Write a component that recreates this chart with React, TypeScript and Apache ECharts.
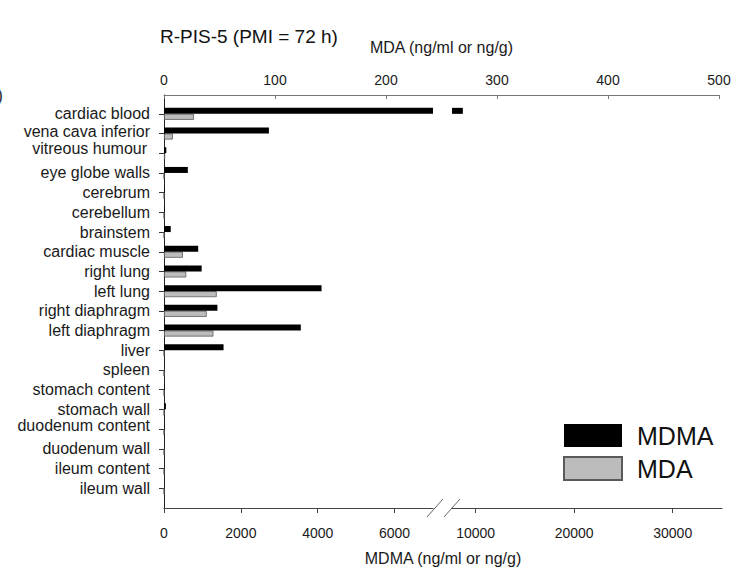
import React, { useEffect, useRef } from 'react';
import * as echarts from 'echarts';

const categories = [
  'cardiac blood', 'vena cava inferior', 'vitreous humour', 'eye globe walls', 'cerebrum',
  'cerebellum', 'brainstem', 'cardiac muscle', 'right lung', 'left lung', 'right diaphragm',
  'left diaphragm', 'liver', 'spleen', 'stomach content', 'stomach wall', 'duodenum content',
  'duodenum wall', 'ileum content', 'ileum wall',
];
// MDMA (ng/ml or ng/g), bottom broken axis
const mdmaValues = [8700, 2730, 60, 620, 15, 15, 175, 890, 980, 4100, 1390, 3560, 1550, 5, 10, 50, 10, 0, 0, 0];
// MDA (ng/ml or ng/g), top axis
const mdaValues = [27, 8, 1, 0, 0, 0, 0, 17, 20, 47.5, 38.5, 44.5, 0, 0, 0, 0, 0, 0, 0, 0];

const mdaRange = [0, 500];
const mdaInterval = 100;
const mdmaLowRange = [0, 7000];
const mdmaLowTicks = [0, 2000, 4000, 6000];
const mdmaHighRange = [7600, 35000];
const mdmaHighTicks = [10000, 20000, 30000];

const FONT = '"Liberation Sans", Arial, Helvetica, sans-serif';
const labelShift: Record<string, string> = {
  'vena cava inferior': 'u2',
  'vitreous humour': 'u5',
  'duodenum content': 'u4',
};

export default function App() {
  const ref = useRef<HTMLDivElement>(null);
  useEffect(() => {
    if (!ref.current) return;
    const chart = echarts.init(ref.current, undefined, { renderer: 'svg' });
    const labelBase = { fontSize: 16, color: '#1a1a1a', fontFamily: FONT };
    const grids = [
      { left: 164, right: 25, top: 104, bottom: 76 },
      { left: 164, width: 269, top: 104, bottom: 76 },
      { left: 452, width: 270, top: 104, bottom: 76 },
      { left: 164, width: 558, top: 95, bottom: 66 },
    ];
    const hiddenCat = (gi: number) => ({
      gridIndex: gi, type: 'category', inverse: true, data: categories, show: false,
    });
    const bottomAxis = (gi: number, range: number[], ticks: number[]) => ({
      gridIndex: gi, type: 'value', position: 'bottom', offset: 10,
      min: range[0], max: range[1],
      axisLine: { show: true, lineStyle: { color: '#444', width: 1 } },
      axisTick: { show: true, length: 5, customValues: ticks, lineStyle: { color: '#444' } },
      axisLabel: {
        customValues: ticks, formatter: (v: number) => String(v), margin: 18,
        fontSize: 14, color: '#1a1a1a', fontFamily: FONT,
      },
      splitLine: { show: false },
    });
    chart.setOption({
      animation: false,
      backgroundColor: '#ffffff',
      textStyle: { fontFamily: FONT },
      title: {
        text: 'R-PIS-5 (PMI = 72 h)', left: 155, top: 22,
        textStyle: { fontSize: 19, fontWeight: 'normal', color: '#111', fontFamily: FONT },
      },
      legend: {
        data: ['MDMA', 'MDA'], orient: 'vertical', left: 558, top: 418,
        itemWidth: 58, itemHeight: 23, itemGap: 8, icon: 'rect',
        textStyle: { fontSize: 25, color: '#111', fontFamily: FONT, padding: [0, 0, 0, 10] },
      },
      grid: grids,
      xAxis: [
        {
          gridIndex: 0, type: 'value', position: 'top', offset: 9,
          min: mdaRange[0], max: mdaRange[1], interval: mdaInterval,
          name: 'MDA (ng/ml or ng/g)', nameLocation: 'middle', nameGap: 40,
          nameTextStyle: { fontSize: 16, color: '#1a1a1a', fontFamily: FONT },
          axisLine: { show: true, lineStyle: { color: '#777', width: 1 } },
          axisTick: { show: true, inside: true, length: 4, lineStyle: { color: '#777' } },
          axisLabel: { fontSize: 14, color: '#1a1a1a', margin: 8, fontFamily: FONT },
          splitLine: { show: false },
        },
        bottomAxis(1, mdmaLowRange, mdmaLowTicks),
        bottomAxis(2, mdmaHighRange, mdmaHighTicks),
        {
          gridIndex: 3, type: 'value', position: 'bottom', min: 0, max: 1,
          name: 'MDMA (ng/ml or ng/g)', nameLocation: 'middle', nameGap: 42,
          nameTextStyle: { fontSize: 16, color: '#1a1a1a', fontFamily: FONT },
          axisLine: { show: false }, axisTick: { show: false }, axisLabel: { show: false },
          splitLine: { show: false },
        },
      ],
      yAxis: [
        {
          gridIndex: 0, type: 'category', inverse: true, data: categories,
          axisLine: { show: false },
          axisTick: { show: true, alignWithLabel: true, length: 5, lineStyle: { color: '#333' } },
          axisLabel: {
            interval: 0, margin: 14, ...labelBase,
            formatter: (v: string) => (labelShift[v] ? `{${labelShift[v]}|${v}}` : v),
            rich: {
              u2: { ...labelBase, padding: [0, 0, 4, 0] },
              u5: { ...labelBase, padding: [0, 3, 10, 0] },
              u4: { ...labelBase, padding: [0, 0, 8, 0] },
            },
          },
          splitLine: { show: false },
        },
        hiddenCat(1),
        hiddenCat(2),
        {
          gridIndex: 3, type: 'value', min: 0, max: 1,
          axisLine: { show: true, lineStyle: { color: '#222', width: 1 } },
          axisTick: { show: false }, axisLabel: { show: false }, splitLine: { show: false },
        },
      ],
      series: [
        { type: 'bar', name: 'pad0', xAxisIndex: 0, yAxisIndex: 0, data: [], barWidth: 6, barGap: '0%' },
        {
          type: 'bar', name: 'MDA', xAxisIndex: 0, yAxisIndex: 0, data: mdaValues,
          barWidth: 6, barGap: '0%',
          itemStyle: { color: '#bcbcbc', borderColor: '#5a5a5a', borderWidth: 0.8 },
        },
        {
          type: 'bar', name: 'MDMA', xAxisIndex: 1, yAxisIndex: 1, data: mdmaValues,
          barWidth: 6, barGap: '0%', clip: true, itemStyle: { color: '#000' },
        },
        { type: 'bar', name: 'pad1', xAxisIndex: 1, yAxisIndex: 1, data: [], barWidth: 6, barGap: '0%' },
        {
          type: 'bar', name: 'MDMA', xAxisIndex: 2, yAxisIndex: 2, data: mdmaValues,
          barWidth: 6, barGap: '0%', clip: true, itemStyle: { color: '#000' },
        },
        { type: 'bar', name: 'pad2', xAxisIndex: 2, yAxisIndex: 2, data: [], barWidth: 6, barGap: '0%' },
      ],
      graphic: [
        { type: 'line', shape: { x1: 427, y1: 517, x2: 443, y2: 499 }, style: { stroke: '#666', lineWidth: 1 } },
        { type: 'line', shape: { x1: 444, y1: 517, x2: 460, y2: 499 }, style: { stroke: '#666', lineWidth: 1 } },
        { type: 'text', left: -3, top: 86, style: { text: ')', fontSize: 18, fill: '#333', fontFamily: FONT } },
      ],
    });
    return () => chart.dispose();
  }, []);
  return (
    <div
      ref={ref}
      style={{ position: 'fixed', left: 0, top: 0, width: 744, height: 574, background: '#fff' }}
    />
  );
}
